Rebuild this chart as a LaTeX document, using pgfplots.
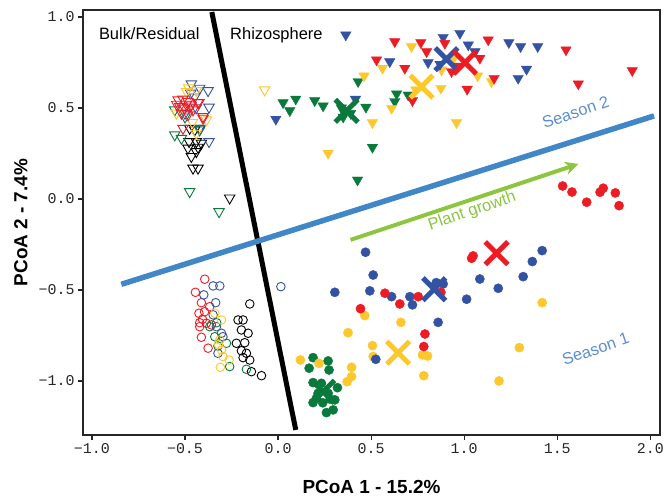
\documentclass[border=0pt]{standalone}
\usepackage{fontspec}
\setmainfont{Liberation Sans}
\setmonofont{Liberation Mono}
\usepackage{pgfplots}
\pgfplotsset{compat=1.18}
\usetikzlibrary{arrows.meta}

\definecolor{cred}{RGB}{237,28,36}
\definecolor{cblue}{RGB}{52,82,163}
\definecolor{cgreen}{RGB}{10,122,60}
\definecolor{cyellow}{RGB}{253,199,46}
\definecolor{seasonline}{RGB}{65,135,200}
\definecolor{seasontext}{RGB}{91,141,209}
\definecolor{growth}{RGB}{140,198,63}

\pgfplotsset{
  opentri/.style={only marks, mark=triangle, mark size=6bp, mark options={rotate=180, line width=0.9bp, draw=#1}},
  filltri/.style={only marks, mark=triangle*, mark size=6bp, mark options={rotate=180, draw=#1, fill=#1}},
  opencirc/.style={only marks, mark=o, mark size=4.3bp, mark options={line width=0.9bp, draw=#1}},
  fillcirc/.style={only marks, mark=*, mark size=4.6bp, mark options={draw=#1, fill=#1}},
  centroid/.style={only marks, mark=x, mark size=16bp, mark options={line width=5bp, draw=#1}},
}

\begin{document}
\begin{tikzpicture}
\begin{axis}[
  scale only axis, width=577bp, height=425bp,
  xmin=-1.048, xmax=2.052, ymin=-1.297, ymax=1.038,
  axis line style={line width=1.2bp, black!85},
  xtick={-1,-0.5,0,0.5,1,1.5,2}, ytick={-1,-0.5,0,0.5,1},
  xticklabels={{−1.0},{−0.5},{0.0},{0.5},{1.0},{1.5},{2.0}},
  yticklabels={{−1.0},{−0.5},{0.0},{0.5},{1.0}},
  tick align=outside, xtick pos=bottom, ytick pos=left,
  major tick length=5bp,
  tick style={line width=1.2bp, black!85},
  ticklabel style={font=\ttfamily\fontsize{15}{18}\selectfont, black!85},
  xlabel={PCoA 1 - 15.2\%}, ylabel={PCoA 2 - 7.4\%},
  label style={font=\bfseries\fontsize{19}{22}\selectfont},
  xlabel style={at={(axis description cs:0.5,-0.1224)}, anchor=center},
  ylabel style={at={(axis description cs:-0.1075,0.5)}, anchor=center},
  clip=false,
]

% guide lines
\addplot[black, line width=5bp, no marks] coordinates {(-0.356,1.027) (0.095,-1.269)};
\addplot[seasonline, line width=5.5bp, no marks] coordinates {(-0.842,-0.469) (2.02,0.456)};
\addplot[growth, line width=4bp, no marks, -{Stealth[length=13bp,width=13bp,inset=4bp]}] coordinates {(0.389,-0.225) (1.613,0.192)};

% Season 2, bulk / residual
\addplot[opentri=black] coordinates {(-0.475,0.388) (-0.448,0.379) (-0.478,0.315) (-0.439,0.315) (-0.412,0.306) (-0.484,0.279) (-0.430,0.284) (-0.466,0.233) (-0.439,0.260) (-0.457,0.169) (-0.430,0.169) (-0.260,0.005) (-0.421,0.388)};
\addplot[opentri=cgreen] coordinates {(-0.555,0.352) (-0.519,0.333) (-0.555,0.489) (-0.421,0.379) (-0.475,0.040) (-0.317,-0.070) (-0.500,0.450)};
\addplot[opentri=cblue] coordinates {(-0.466,0.632) (-0.421,0.608) (-0.376,0.595) (-0.469,0.581) (-0.371,0.504) (-0.421,0.388) (-0.371,0.315) (-0.448,0.560) (-0.500,0.470) (-0.440,0.500)};
\addplot[opentri=cyellow] coordinates {(-0.492,0.590) (-0.439,0.595) (-0.385,0.434) (-0.546,0.471) (-0.439,0.361) (-0.480,0.610) (-0.072,0.599) (-0.460,0.420)};
\addplot[opentri=cred] coordinates {(-0.537,0.544) (-0.511,0.548) (-0.484,0.535) (-0.528,0.507) (-0.502,0.498) (-0.466,0.516) (-0.519,0.471) (-0.484,0.462) (-0.457,0.489) (-0.425,0.529) (-0.403,0.443) (-0.511,0.388) (-0.430,0.529) (-0.403,0.452) (-0.493,0.520) (-0.545,0.520) (-0.475,0.505)};

% Season 2, rhizosphere
\addplot[filltri=cgreen] coordinates {(0.430,0.645) (0.027,0.529) (0.095,0.549) (0.063,0.485) (0.197,0.540) (0.242,0.511) (0.472,0.504) (0.507,0.284) (0.427,0.104) (0.637,0.577) (0.627,0.535) (0.699,0.571) (0.340,0.500) (0.390,0.470) (0.350,0.450)};
\addplot[filltri=cyellow] coordinates {(0.561,0.718) (0.462,0.676) (0.507,0.419) (0.269,0.251) (0.610,0.498) (0.717,0.837) (1.147,0.645) (1.072,0.676) (0.875,0.608) (0.959,0.419) (0.878,0.709) (0.941,0.768) (0.740,0.600)};
\addplot[filltri=cblue] coordinates {(0.364,0.901) (0.600,0.754) (-0.012,0.438) (0.416,0.548) (0.887,0.888) (0.977,0.910) (1.022,0.846) (1.058,0.809) (1.240,0.859) (1.303,0.837) (1.395,0.837) (1.335,0.713) (1.290,0.663) (0.806,0.749) (0.870,0.740)};
\addplot[filltri=cred] coordinates {(0.627,0.864) (0.529,0.764) (0.767,0.859) (0.798,0.809) (0.896,0.855) (1.129,0.874) (1.084,0.773) (1.547,0.819) (1.903,0.705) (1.613,0.632) (1.161,0.663) (0.681,0.718) (1.016,0.603) (0.722,0.540) (0.932,0.700) (0.960,0.730)};

% Season 1, bulk / residual
\addplot[opencirc=black] coordinates {(-0.152,-0.577) (-0.215,-0.665) (-0.188,-0.665) (-0.197,-0.720) (-0.161,-0.738) (-0.224,-0.793) (-0.179,-0.790) (-0.197,-0.834) (-0.170,-0.848) (-0.188,-0.872) (-0.152,-0.885) (-0.143,-0.949) (-0.089,-0.971)};
\addplot[opencirc=cred] coordinates {(-0.394,-0.441) (-0.444,-0.513) (-0.412,-0.570) (-0.367,-0.592) (-0.425,-0.628) (-0.406,-0.661) (-0.385,-0.683) (-0.358,-0.692) (-0.421,-0.702) (-0.412,-0.760) (-0.376,-0.820) (-0.421,-0.680) (-0.395,-0.620)};
\addplot[opencirc=cblue] coordinates {(-0.349,-0.478) (-0.313,-0.478) (-0.399,-0.527) (-0.335,-0.570) (-0.349,-0.637) (-0.331,-0.702) (-0.296,-0.757) (-0.323,-0.848) (-0.304,-0.738) (0.015,-0.482)};
\addplot[opencirc=cgreen] coordinates {(-0.340,-0.757) (-0.277,-0.793) (-0.323,-0.808) (-0.260,-0.921) (-0.170,-0.936) (-0.367,-0.702) (-0.330,-0.680)};
\addplot[opencirc=cyellow] coordinates {(-0.340,-0.628) (-0.304,-0.665) (-0.313,-0.775) (-0.304,-0.830) (-0.296,-0.866) (-0.263,-0.885) (-0.310,-0.925) (-0.320,-0.800)};

% Season 1, rhizosphere
\addplot[fillcirc=cgreen] coordinates {(0.188,-0.872) (0.269,-0.890) (0.167,-0.930) (0.274,-0.940) (0.319,-1.037) (0.188,-1.009) (0.305,-1.104) (0.188,-1.119) (0.296,-1.159) (0.260,-1.174) (0.233,-1.013) (0.215,-1.068) (0.269,-1.068) (0.206,-1.095) (0.240,-1.120) (0.280,-1.100)};
\addplot[fillcirc=cyellow] coordinates {(0.466,-0.641) (0.660,-0.678) (0.376,-0.735) (0.507,-0.806) (0.511,-0.866) (0.120,-0.885) (0.220,-0.903) (0.395,-0.925) (0.395,-0.976) (0.371,-1.004) (0.776,-0.857) (0.803,-0.863) (0.783,-0.971) (1.419,-0.570) (1.296,-0.817) (1.187,-1.000)};
\addplot[fillcirc=cblue] coordinates {(0.470,-0.293) (0.511,-0.418) (0.305,-0.513) (0.493,-0.505) (0.610,-0.537) (0.708,-0.537) (0.722,-0.582) (0.525,-0.881) (0.860,-0.678) (0.887,-0.467) (1.013,-0.551) (1.084,-0.440) (1.183,-0.491) (1.317,-0.427) (1.366,-0.344) (1.419,-0.284) (0.850,-0.460)};
\addplot[fillcirc=cred] coordinates {(0.574,-0.518) (0.654,-0.577) (0.753,-0.537) (0.443,-0.603) (0.789,-0.742) (0.783,-0.811) (0.875,-0.513) (1.040,-0.326) (1.048,-0.313) (1.529,0.071) (1.579,0.038) (1.658,-0.018) (1.730,0.037) (1.747,0.059) (1.812,0.033) (1.832,-0.037)};

% group centroids
\addplot[centroid=cgreen] coordinates {(0.242,-1.059) (0.368,0.484)};
\addplot[centroid=cyellow] coordinates {(0.645,-0.845) (0.771,0.617)};
\addplot[centroid=cblue] coordinates {(0.839,-0.496) (0.905,0.768)};
\addplot[centroid=cred] coordinates {(1.174,-0.298) (1.004,0.749)};

% annotations
\node[anchor=base, font=\fontsize{16.5}{19}\selectfont] at (axis cs:-0.692,0.874) {Bulk/Residual};
\node[anchor=base, font=\fontsize{16.5}{19}\selectfont] at (axis cs:-0.009,0.874) {Rhizosphere};
\node[rotate=19, text=seasontext, font=\fontsize{16.5}{19}\selectfont] at (axis cs:1.599,0.476) {Season 2};
\node[rotate=19, text=seasontext, font=\fontsize{16.5}{19}\selectfont] at (axis cs:1.706,-0.824) {Season 1};
\node[rotate=19, text=growth, font=\fontsize{16.5}{19}\selectfont] at (axis cs:1.043,-0.070) {Plant growth};
\end{axis}
\pgfresetboundingbox
\path[use as bounding box] ([shift={(-83bp,-63bp)}]current axis.south west) rectangle ([shift={(3bp,10bp)}]current axis.north east);
\end{tikzpicture}
\end{document}
